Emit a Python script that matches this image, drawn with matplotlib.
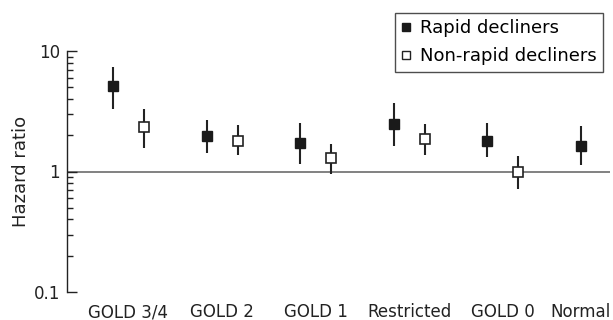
import matplotlib
matplotlib.use("Agg")
import matplotlib.pyplot as plt
from matplotlib.lines import Line2D
import numpy as np

categories = ["GOLD 3/4", "GOLD 2", "GOLD 1", "Restricted", "GOLD 0", "Normal"]

rapid_hr = [5.17, 1.98, 1.74, 2.49, 1.80, 1.63]
rapid_lo = [3.33, 1.42, 1.15, 1.64, 1.31, 1.13]
rapid_hi = [7.43, 2.70, 2.55, 3.69, 2.55, 2.39]

nonrapid_hr = [2.36, 1.80, 1.29, 1.87, 1.00, None]
nonrapid_lo = [1.58, 1.38, 0.95, 1.37, 0.72, None]
nonrapid_hi = [3.33, 2.45, 1.68, 2.49, 1.35, None]

yticks = [0.1, 1, 10]
yticklabels = ["0.1", "1", "10"]

plt.rcParams['font.family'] = ['DejaVu Sans']

fig = plt.figure(figsize=(6.13, 3.2), dpi=100)
ax = fig.add_axes([67/613, 1-292/320, 543/613, (292-51)/320])

off = 0.166
x = np.arange(len(categories))

ax.axhline(1, color='#777777', lw=1.3, zorder=1)

r_x = x - off
r_hr = np.array(rapid_hr)
ax.errorbar(r_x, r_hr,
            yerr=[r_hr - np.array(rapid_lo), np.array(rapid_hi) - r_hr],
            fmt='s', color='#222222', mfc='#1a1a1a', mec='#1a1a1a',
            ms=7.5, elinewidth=1.5, capsize=0, zorder=3)

idx = [i for i, v in enumerate(nonrapid_hr) if v is not None]
n_x = x[idx] + off
n_hr = np.array([nonrapid_hr[i] for i in idx])
n_lo = np.array([nonrapid_lo[i] for i in idx])
n_hi = np.array([nonrapid_hi[i] for i in idx])
ax.errorbar(n_x, n_hr, yerr=[n_hr - n_lo, n_hi - n_hr],
            fmt='s', color='#222222', mfc='white', mec='#222222', mew=1.2,
            ms=7.5, elinewidth=1.5, capsize=0, zorder=3)

ax.set_yscale('log')
ax.set_ylim(0.1, 10)
ax.set_xlim(-0.657, 5.144)

tick_pos = [xi if nonrapid_hr[i] is not None else xi - off for i, xi in enumerate(x)]
ax.set_xticks(tick_pos)
ax.set_xticklabels(categories, fontsize=12)
ax.tick_params(axis='x', length=0, pad=8, colors='#222222')

ax.set_yticks(yticks)
ax.set_yticklabels(yticklabels, fontsize=12)
ax.tick_params(axis='y', which='major', direction='in', length=7, width=1, pad=5, colors='#222222')
ax.tick_params(axis='y', which='minor', direction='in', length=4, width=1, labelleft=False, colors='#222222')
ax.yaxis.set_minor_formatter(matplotlib.ticker.NullFormatter())

for s in ['top', 'right', 'bottom']:
    ax.spines[s].set_visible(False)
ax.spines['left'].set_color('#222222')
ax.spines['left'].set_linewidth(1)

ax.set_ylabel('Hazard ratio', fontsize=13, color='#222222')
ax.yaxis.set_label_coords(-0.068, 0.5)

handles = [
    Line2D([], [], marker='s', ls='none', mfc='#1a1a1a', mec='#1a1a1a', ms=6),
    Line2D([], [], marker='s', ls='none', mfc='white', mec='#222222', mew=1, ms=6),
]
leg = fig.legend(handles, ['Rapid decliners', 'Non-rapid decliners'],
                 loc='upper right', bbox_to_anchor=(603/613, 1-13/320),
                 fontsize=13, frameon=True, fancybox=False, edgecolor='#222222',
                 handlelength=0.6, handletextpad=0.45, borderpad=0.35,
                 borderaxespad=0, labelspacing=0.55)
leg.get_frame().set_linewidth(1)

fig.savefig('out.png', dpi=100)
